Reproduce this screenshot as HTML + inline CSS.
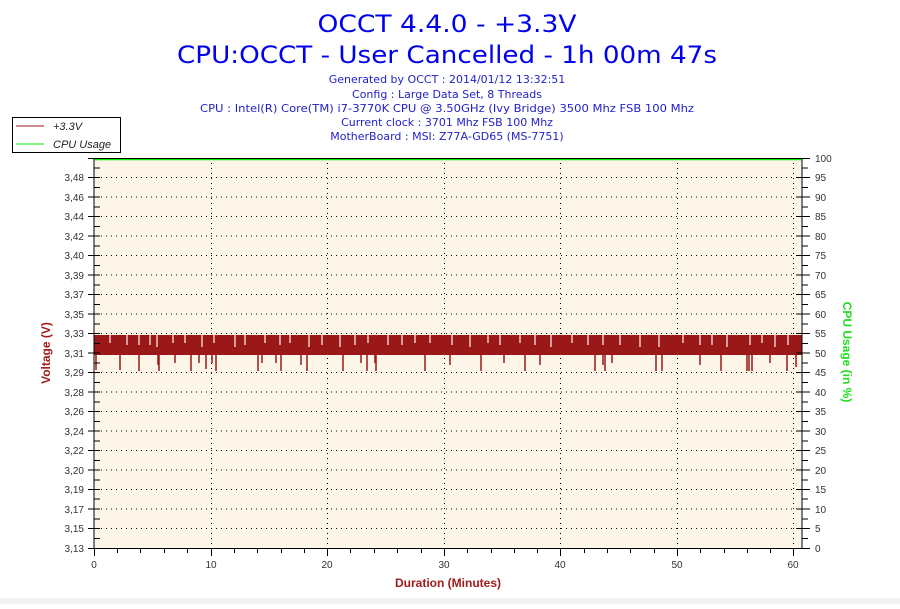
<!DOCTYPE html>
<html><head><meta charset="utf-8"><style>
body{margin:0;background:#fff;width:900px;height:604px;overflow:hidden;font-family:"Liberation Sans",sans-serif}
</style></head><body>
<svg width="900" height="604" xmlns="http://www.w3.org/2000/svg" font-family="Liberation Sans, sans-serif">
<rect x="0" y="0" width="900" height="604" fill="#fff"/>
<rect x="0" y="598" width="900" height="6" fill="#f2f2f2"/>
<g fill="#0000ee" text-anchor="middle" font-family="DejaVu Sans, sans-serif">
<text x="447" y="32" font-size="24" textLength="259" lengthAdjust="spacingAndGlyphs">OCCT 4.4.0 - +3.3V</text>
<text x="447" y="63" font-size="24" textLength="540" lengthAdjust="spacingAndGlyphs">CPU:OCCT - User Cancelled - 1h 00m 47s</text>
<g font-size="11" fill="#2222cc">
<text x="447" y="83">Generated by OCCT : 2014/01/12 13:32:51</text>
<text x="447" y="98">Config : Large Data Set, 8 Threads</text>
<text x="447" y="112" textLength="494" lengthAdjust="spacingAndGlyphs">CPU : Intel(R) Core(TM) i7-3770K CPU @ 3.50GHz (Ivy Bridge) 3500 Mhz FSB 100 Mhz</text>
<text x="447" y="126">Current clock : 3701 Mhz FSB 100 Mhz</text>
<text x="447" y="140">MotherBoard : MSI: Z77A-GD65 (MS-7751)</text>
</g></g>
<rect x="94" y="158" width="708" height="390" fill="#fdf6e8"/>
<g id="grid" stroke="#000" stroke-dasharray="1,4" stroke-width="1">
<path d="M96 177.5H802M96 197H802M96 216.5H802M96 236H802M96 255.5H802M96 275H802M96 294.5H802M96 314H802M96 333.5H802M96 353H802M96 372.5H802M96 392H802M96 411.5H802M96 431H802M96 450.5H802M96 470H802M96 489.5H802M96 509H802M96 528.5H802"/>
<path d="M211.5 158V548M327.5 158V548M444.5 158V548M560.5 158V548M677.5 158V548M793.5 158V548"/>
</g>
<line x1="94" y1="159.5" x2="802" y2="159.5" stroke="#00ee00" stroke-width="1.5"/>
<rect x="94" y="335" width="708" height="20" fill="#9b1818"/>
<g stroke="#fdf6e8" stroke-width="1.2">
<path d="M139 335v10M150 335v10M157 335v12M173 335v8M202 335v12M214 335v8M235 335v12M280 335v10M290 335v8M309 335v12M340 335v12M355 335v10M388 335v10M430 335v8M470 335v12M500 335v10M520 335v8M551 335v12M603 335v10M620 335v10M640 335v12M659 335v12M700 335v10M727 335v12M750 335v10M775 335v12M110 335v8M127 335v10M185 335v8M245 335v10M265 335v8M322 335v10M368 335v8M402 335v10M415 335v8M452 335v10M488 335v8M535 335v10M572 335v8M588 335v10M683 335v8M712 335v10M762 335v8M788 335v10"/>
</g>
<g stroke="#9b1818" stroke-width="1.5">
<path d="M96 355v15M120 355v15M139 355v16M158 355v10M159 355v16M175 355v8M191 355v16M199 355v8M206 355v14M212 355v8M216 355v16M258 355v16M262 355v8M276 355v8M281 355v16M301 355v10M307 355v16M343 355v16M361 355v8M367 355v16M375 355v8M376 355v16M425 355v16M450 355v10M481 355v16M504 355v8M525 355v16M540 355v10M595 355v16M603 355v10M605 355v16M612 355v8M656 355v16M662 355v16M700 355v10M721 355v16M747 355v16M749 355v16M752 355v16M770 355v8M787 355v16M796 355v12"/>
</g>
<g stroke="#000" stroke-width="1">
<line x1="94" y1="158" x2="94" y2="549"/>
<line x1="802" y1="158" x2="802" y2="549"/>
<line x1="94" y1="548.5" x2="802" y2="548.5"/>
<line x1="94" y1="158.5" x2="802" y2="158.5"/>
<path d="M88 548.5H100M88 528.5H100M88 509H100M88 489.5H100M88 470H100M88 450.5H100M88 431H100M88 411.5H100M88 392H100M88 372.5H100M88 353H100M88 333.5H100M88 314H100M88 294.5H100M88 275H100M88 255.5H100M88 236H100M88 216.5H100M88 197H100M88 177.5H100M88 158.5H100"/>
<path d="M94 538.5H100M94 519H100M94 499H100M94 480H100M94 460.5H100M94 441H100M94 421.5H100M94 402H100M94 382.5H100M94 363H100M94 343.5H100M94 324H100M94 304.5H100M94 285H100M94 265.5H100M94 246H100M94 226.5H100M94 207H100M94 187.5H100M94 168H100"/>
<path d="M796 548.5H810M796 528.5H810M796 509H810M796 489.5H810M796 470H810M796 450.5H810M796 431H810M796 411.5H810M796 392H810M796 372.5H810M796 353H810M796 333.5H810M796 314H810M796 294.5H810M796 275H810M796 255.5H810M796 236H810M796 216.5H810M796 197H810M796 177.5H810M796 158.5H810"/>
<path d="M802 538.5H808M802 519H808M802 499H808M802 480H808M802 460.5H808M802 441H808M802 421.5H808M802 402H808M802 382.5H808M802 363H808M802 343.5H808M802 324H808M802 304.5H808M802 285H808M802 265.5H808M802 246H808M802 226.5H808M802 207H808M802 187.5H808M802 168H808"/>
<path d="M94.5 548V556M211.5 548V556M327.5 548V556M444.5 548V556M560.5 548V556M677.5 548V556M793.5 548V556"/>
<path d="M117.5 548V553M140.5 548V553M164.5 548V553M187.5 548V553M234.5 548V553M257.5 548V553M281.5 548V553M304.5 548V553M350.5 548V553M374.5 548V553M397.5 548V553M421.5 548V553M467.5 548V553M491.5 548V553M514.5 548V553M537.5 548V553M584.5 548V553M607.5 548V553M630.5 548V553M654.5 548V553M700.5 548V553M724.5 548V553M747.5 548V553M770.5 548V553"/>
</g>
<g font-size="10" fill="#333" text-anchor="end">
<text x="84" y="552">3,13</text><text x="84" y="532">3,15</text><text x="84" y="513">3,17</text><text x="84" y="493">3,19</text><text x="84" y="474">3,20</text><text x="84" y="454">3,22</text><text x="84" y="435">3,24</text><text x="84" y="415">3,26</text><text x="84" y="396">3,28</text><text x="84" y="376">3,29</text><text x="84" y="357">3,31</text><text x="84" y="337">3,33</text><text x="84" y="318">3,35</text><text x="84" y="298">3,37</text><text x="84" y="279">3,39</text><text x="84" y="259">3,40</text><text x="84" y="240">3,42</text><text x="84" y="220">3,44</text><text x="84" y="201">3,46</text><text x="84" y="181">3,48</text>
</g>
<g font-size="10" fill="#333" text-anchor="start">
<text x="815" y="552">0</text><text x="815" y="532">5</text><text x="815" y="513">10</text><text x="815" y="493">15</text><text x="815" y="474">20</text><text x="815" y="454">25</text><text x="815" y="435">30</text><text x="815" y="415">35</text><text x="815" y="396">40</text><text x="815" y="376">45</text><text x="815" y="357">50</text><text x="815" y="337">55</text><text x="815" y="318">60</text><text x="815" y="298">65</text><text x="815" y="279">70</text><text x="815" y="259">75</text><text x="815" y="240">80</text><text x="815" y="220">85</text><text x="815" y="201">90</text><text x="815" y="181">95</text><text x="815" y="162">100</text>
</g>
<g font-size="10" fill="#333" text-anchor="middle">
<text x="94" y="568">0</text><text x="211" y="568">10</text><text x="327" y="568">20</text><text x="444" y="568">30</text><text x="560" y="568">40</text><text x="677" y="568">50</text><text x="793" y="568">60</text>
</g>
<text x="448" y="587" font-size="12" font-weight="bold" fill="#a01c1c" text-anchor="middle">Duration (Minutes)</text>
<text transform="translate(50,353) rotate(-90)" font-size="12" font-weight="bold" fill="#a01c1c" text-anchor="middle">Voltage (V)</text>
<text transform="translate(843,352) rotate(90)" font-size="12" font-weight="bold" fill="#22dd22" text-anchor="middle">CPU Usage (in %)</text>
<rect x="12.5" y="117.5" width="108" height="35" fill="#fff" stroke="#000"/>
<line x1="16" y1="126" x2="44" y2="126" stroke="#9b1818"/>
<line x1="16" y1="144" x2="44" y2="144" stroke="#00ee00"/>
<text x="53" y="130" font-size="11" font-style="italic" fill="#222">+3.3V</text>
<text x="53" y="148" font-size="11" font-style="italic" fill="#222">CPU Usage</text>
</svg>
</body></html>
